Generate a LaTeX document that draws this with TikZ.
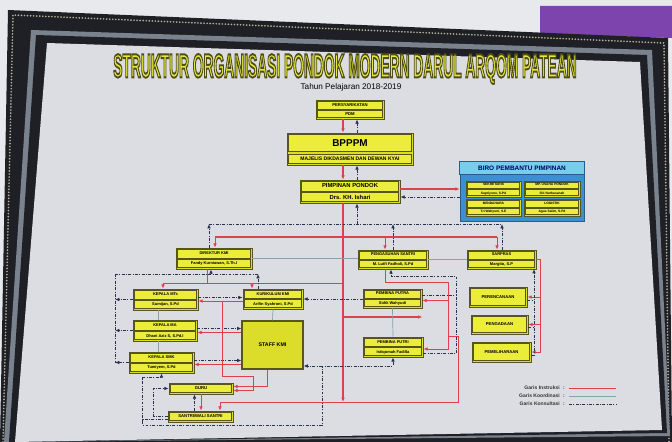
\documentclass[tikz,border=0pt]{standalone}
\usepackage{fontspec}
\setmainfont{Liberation Sans}
\usepackage{graphicx}
\usetikzlibrary{arrows.meta,fit,calc}

\definecolor{wall}{HTML}{E8E9ED}
\definecolor{cloth}{HTML}{7E44AE}
\definecolor{framedark}{HTML}{1E2026}
\definecolor{framegray}{HTML}{7A828E}
\definecolor{bead}{HTML}{B8B098}
\definecolor{paper}{HTML}{DCDDE3}
\definecolor{boxyel}{HTML}{DCDC2A}
\definecolor{rowyel}{HTML}{ECEC3A}
\definecolor{boxedge}{HTML}{56561C}
\definecolor{linered}{HTML}{E0404E}
\definecolor{linekoord}{HTML}{86A2AA}
\definecolor{linekons}{HTML}{2A3150}
\definecolor{biroblue}{HTML}{3E8ED2}
\definecolor{birolight}{HTML}{78CDEB}
\definecolor{biroedge}{HTML}{2A5C8A}
\definecolor{titleyel}{HTML}{E8E83A}

\begin{document}
\begin{tikzpicture}[x=0.3mm,y=-0.3mm,
    orgbox/.style={rectangle,draw=boxedge,fill=boxyel,line width=0.6pt,inner sep=0pt},
    rowbox/.style={draw=boxedge,fill=rowyel,line width=0.35pt},
    instr/.style={draw=linered,line width=0.8pt},
    instrthick/.style={draw=linered,line width=1.3pt},
    koord/.style={draw=linekoord,line width=0.6pt},
    kons/.style={draw=linekons,line width=0.7pt,dash pattern=on 2.5pt off 1.2pt on 0.8pt off 1.2pt},
    arrow/.style={-{Latex[length=1.3mm,width=1.1mm]}},
    legtext/.style={font=\fontsize{4.3}{5}\selectfont\bfseries,text=black!80,inner sep=0pt}
  ]
  % frame and wall
  \useasboundingbox (0,0) rectangle (672,442);
  \fill[wall] (0,0) rectangle (672,442);
  \fill[cloth] (540,6) -- (672,6) -- (672,38) -- (540,34) -- cycle;
  \fill[framedark] (8,10) -- (668,38) -- (672,442) -- (0,442) -- cycle;
  \draw[bead,line width=1.6pt,line cap=round,dash pattern=on 0pt off 2.6pt] (3,442) -- (13,15) -- (664,43) -- (669,442);
  \fill[framegray] (31,30) -- (652,50) -- (670,436) -- (4,442) -- cycle;
  \fill[framedark] (36,35) -- (647,55) -- (667,433) -- (9,442) -- cycle;
  \fill[paper] (47,43) -- (640,62) -- (662,430) -- (15,442) -- cycle;

  % title
  \node[inner sep=0pt] (title) at (345,69) {\resizebox{139mm}{7mm}{\color{titleyel}\special{pdf:literal direct 2 Tr 0.6 w 0.306 0.306 0.086 RG}\bfseries STRUKTUR ORGANISASI PONDOK MODERN DARUL ARQOM PATEAN\special{pdf:literal direct 0 Tr}}};
  \node[font=\fontsize{7}{8}\selectfont,inner sep=0pt] (tahun) at (351,87) {Tahun Pelajaran 2018-2019};

  % boxes
  \node[orgbox,fit={(316,100) (384,119)}] (tenaga) {};
  \node[orgbox,fit={(287,133) (413,165)}] (bpppm) {};
  \node[orgbox,fit={(300,180) (400,203)}] (pimpinan) {};
  \node[rectangle,draw=biroedge,fill=biroblue,line width=0.6pt,inner sep=0pt,fit={(460,162) (584,221)}] (biro) {};
  \node[orgbox,fit={(176,248) (252,269)}] (direktur) {};
  \node[orgbox,fit={(358,250) (428,269)}] (pengasuhan) {};
  \node[orgbox,fit={(467,250) (536,269)}] (sarpras) {};
  \node[orgbox,fit={(133,289) (198,310)}] (mts) {};
  \node[orgbox,fit={(243,289) (303,309)}] (kurikulum) {};
  \node[orgbox,fit={(133,320) (197,341)}] (ma) {};
  \node[orgbox,fit={(129,352) (194,373)}] (smk) {};
  \node[orgbox,line width=0.9pt,fit={(242,321) (303,369)}] (staff) {};
  \node[font=\fontsize{4.5}{5}\selectfont\bfseries] at (staff) {STAFF KMI};
  \node[orgbox,fit={(363,289) (422,308)}] (putra) {};
  \node[orgbox,fit={(363,337) (423,357)}] (putri) {};
  \node[orgbox,fit={(469,287) (527,307)}] (perencanaan) {};
  \node[orgbox,fit={(471,315) (528,334)}] (pengadaan) {};
  \node[orgbox,fit={(472,342) (531,362)}] (pemeliharaan) {};
  \node[orgbox,fit={(169,383) (233,394)}] (guru) {};
  \node[orgbox,fit={(168,411) (233,422)}] (santri) {};

  % biro pembantu pimpinan
  \draw[fill=birolight,draw=biroedge,line width=0.4pt] (biro.north west) rectangle ($(biro.north east)+(0,13)$);
  \node[font=\fontsize{5.5}{6}\selectfont\bfseries,text=blue!40!black,inner sep=0pt] at ($(biro.north)+(0,6.5)$) {BIRO PEMBANTU PIMPINAN};
  \node[orgbox,fit={(466,181) (521,197)}] (bsek) {};
  \node[orgbox,fit={(524,181) (580,197)}] (busaha) {};
  \node[orgbox,fit={(466,199) (521,216)}] (bbend) {};
  \node[orgbox,fit={(524,199) (580,216)}] (blog) {};

  % BPPPM rows
  \draw[rowbox] ($(bpppm.north west)+(2,2)$) rectangle ($(bpppm.north east)+(-2,19)$);
  \node[font=\fontsize{8.5}{9}\selectfont\bfseries,inner sep=0pt] at ($(bpppm.north)+(0,10.5)$) {BPPPM};
  \draw[rowbox] ($(bpppm.south west)+(2,-11)$) rectangle ($(bpppm.south east)+(-2,-2)$);
  \node[font=\fontsize{4.3}{5}\selectfont\bfseries,inner sep=0pt] at ($(bpppm.south)+(0,-6.5)$) {MAJELIS DIKDASMEN DAN DEWAN KYAI};

  % two-row boxes
  \foreach \n/\ra/\rb/\fs in {
      tenaga/{PERSYARIKATAN}/{PDM}/3.6,
      pimpinan/{PIMPINAN PONDOK}/{Drs. KH. Ishari}/5,
      direktur/{DIREKTUR KMI}/{Fandy Kurniawan, S.Th.I}/3.4,
      pengasuhan/{PENGASUHAN SANTRI}/{M. Lutfi Fadholi, S.Pd}/3.4,
      sarpras/{SARPRAS}/{Margito, S.P}/3.4,
      mts/{KEPALA MTs}/{Sumijan, S.Pd}/3.4,
      kurikulum/{KURIKULUM KMI}/{Arifin Syahroni, S.Pd}/3.4,
      ma/{KEPALA MA}/{Dhani Aziz S, S.Pd.I}/3.4,
      smk/{KEPALA SMK}/{Tumiyem, S.Pd}/3.4,
      putra/{PEMBINA PUTRA}/{Sidik Wahyudi}/3.4,
      putri/{PEMBINA PUTRI}/{Istiqomah Fadilla}/3.4,
      bsek/{SEKRETARIS}/{Supriyono, S.Pd}/2.8,
      busaha/{MP. USAHA PONDOK}/{Siti Nurhasanah}/2.8,
      bbend/{BENDAHARA}/{Tri Wahyuni, S.E}/2.8,
      blog/{LOGISTIK}/{Agus Salim, S.Pd}/2.8} {
    \draw[rowbox] ($(\n.north west)+(1.8,1.8)$) rectangle ($(\n.east)+(-1.8,-0.6)$);
    \draw[rowbox] ($(\n.west)+(1.8,0.6)$) rectangle ($(\n.south east)+(-1.8,-1.8)$);
    \node[font=\fontsize{\fs}{\fs}\selectfont\bfseries,inner sep=0pt] at ($(\n.north)!0.5!(\n.center)$) {\ra};
    \node[font=\fontsize{\fs}{\fs}\selectfont\bfseries,inner sep=0pt] at ($(\n.south)!0.5!(\n.center)$) {\rb};
  }

  % one-row boxes
  \foreach \n/\ra in {perencanaan/PERENCANAAN, pengadaan/PENGADAAN, pemeliharaan/PEMELIHARAAN,
      guru/GURU, santri/{SANTRI/WALI SANTRI}} {
    \draw[rowbox] ($(\n.north west)+(1.8,1.8)$) rectangle ($(\n.south east)+(-1.8,-1.8)$);
    \node[font=\fontsize{3.6}{4}\selectfont\bfseries,inner sep=0pt] at (\n) {\ra};
  }

  % coordinates of the buses
  \coordinate (rbl) at (215,237);
  \coordinate (rbm) at (385,237);
  \coordinate (rbr) at (497,237);
  \coordinate (kb) at (357,224);
  \coordinate (kbl) at (209,224);
  \coordinate (kbm) at (393,224);
  \coordinate (kbr) at (502,224);
  \coordinate (rbot) at (343,402);
  \coordinate (kr) at (207,283);
  \coordinate (krl) at (163,283);
  \coordinate (krk) at (252,283);
  \coordinate (krt) at (343,283);
  \coordinate (kk) at (211,274);
  \coordinate (kkl) at (115,274);
  \coordinate (kkr) at (258,274);
  \coordinate (rk) at (222,301);
  \coordinate (rp) at (343,317);
  \coordinate (prx) at (448,282);
  \coordinate (psb) at (458,402);
  \coordinate (pkx) at (456,276);
  \coordinate (kc) at (322,366);
  \coordinate (kcb) at (322,425);
  \coordinate (sx) at (540,259.5);
  \coordinate (skx) at (534,269);

  % top
  \draw[instrthick,arrow] ([xshift=-2.1mm]tenaga.south) -- ([xshift=-2.1mm]bpppm.north);
  \draw[kons,arrow] ([xshift=2.1mm]bpppm.north) -- ([xshift=2.1mm]tenaga.south);
  \draw[instrthick,arrow] ([xshift=-2.1mm]bpppm.south) -- ([xshift=-2.1mm]pimpinan.north);
  \draw[kons,arrow] ([xshift=2.1mm]pimpinan.north) -- ([xshift=2.1mm]bpppm.south);
  \draw[instrthick,arrow] ([yshift=0.75mm]pimpinan.east) -- ([yshift=0.75mm]biro.west);
  \draw[kons,arrow] ([yshift=-1.65mm]biro.west) -- ([yshift=-1.65mm]pimpinan.east);

  % pimpinan to second level
  \draw[instrthick,arrow] ([xshift=-2.1mm]pimpinan.south) -- (rbot);
  \draw[instrthick] (rbl) -- (rbr);
  \draw[instr,arrow] (rbl) -- (rbl |- direktur.north);
  \draw[instr,arrow] (rbm) -- (rbm |- pengasuhan.north);
  \draw[instr,arrow] (rbr) -- (rbr |- sarpras.north);
  \draw[kons] (kbl) -- (kbr);
  \draw[kons,arrow] (kbl |- direktur.north) -- (kbl);
  \draw[kons,arrow] (kbm |- pengasuhan.north) -- (kbm);
  \draw[kons,arrow] (kbr |- sarpras.north) -- (kbr);
  \draw[kons,arrow] (kb) -- (kb |- pimpinan.south);
  \draw[koord] (direktur.east) -- (direktur.east -| pengasuhan.west);
  \draw[koord] (pengasuhan.east) -- (pengasuhan.east -| sarpras.west);

  % KMI
  \draw[instr] (direktur.south -| kr) -- (kr);
  \draw[instr] (krl) -- (krt);
  \draw[instr,arrow] (krl) -- (krl |- mts.north);
  \draw[instr,arrow] (krk) -- (krk |- kurikulum.north);
  \draw[kons] (kkl) -- (kkr);
  \draw[kons,arrow] (kk) -- (kk |- direktur.south);
  \draw[kons,arrow] (kkr |- kurikulum.north) -- (kkr);
  \draw[kons] (kkl) -- (kkl |- smk.west);
  \draw[kons,arrow] (mts.west) -- (mts.west -| kkl);
  \draw[kons,arrow] (ma.west) -- (ma.west -| kkl);
  \draw[kons,arrow] (smk.west) -- (smk.west -| kkl);
  \draw[koord] ([xshift=-2mm]mts.south) -- ([xshift=-2mm]mts.south |- ma.north);
  \draw[koord] ([xshift=-2mm]ma.south) -- ([xshift=-2mm]ma.south |- smk.north);
  \draw[instr,arrow] ([yshift=-0.6mm]kurikulum.west) -- ([yshift=-0.6mm]kurikulum.west -| mts.east);
  \draw[kons,arrow] ([yshift=0.6mm]mts.east) -- ([yshift=0.6mm]mts.east -| kurikulum.west);
  \draw[instr,arrow] ([yshift=-0.6mm]staff.west |- ma.east) -- ([yshift=-0.6mm]ma.east);
  \draw[kons,arrow] ([yshift=0.6mm]ma.east) -- ([yshift=0.6mm]staff.west |- ma.east);
  \draw[instr,arrow] ([yshift=-0.6mm]staff.west |- smk.east) -- ([yshift=-0.6mm]smk.east);
  \draw[kons,arrow] ([yshift=0.6mm]smk.east) -- ([yshift=0.6mm]staff.west |- smk.east);
  \draw[koord] (kurikulum.south) -- (staff.north);
  \draw[instr,arrow] (rk) |- ++(31,75) |- ([yshift=-0.6mm]guru.east);
  \draw[instr,arrow] ([xshift=-1.5mm]staff.south) |- ([yshift=0.6mm]guru.east);

  % guru and santri
  \draw[instr,arrow] (guru.south) -- (guru.south |- santri.north);
  \draw[kons,arrow] ([xshift=-1.8mm]santri.north) -- ([xshift=-1.8mm]santri.north |- guru.south);
  \draw[kons,arrow] (santri.west) -- ++(-14,0) |- (guru.west);
  \draw[kons,arrow] ([yshift=-0.9mm]santri.west) -- ++(-25,0) -- ++(0,-42) -| (smk.south);
  \draw[kons,arrow] ([yshift=-0.9mm]santri.west) -- ++(-25,0) |- (kcb) -- (kc) -| (putri.south);
  \draw[kons,arrow] (kc) -- (kc -| staff.east);

  % pengasuhan
  \draw[kons,arrow] (putra.west |- kurikulum.east) -- (kurikulum.east);
  \draw[instrthick,arrow] (rp) -- (rp -| putra.east);
  \draw[koord] (putra.south) -- (putri.north);
  \draw[instr,arrow] ([xshift=-2.4mm]pengasuhan.south) |- (prx) |- ([yshift=-0.6mm]putri.east);
  \draw[instr,arrow] ([yshift=-0.6mm]putra.east -| prx) -- ([yshift=-0.6mm]putra.east);
  \draw[instr,arrow] (prx |- putri.north) -| (psb) -| ([xshift=5.85mm]santri.north);
  \draw[kons,arrow] ([yshift=-2mm]putri.east) -| (pkx) -| ([xshift=-0.6mm]pengasuhan.south);
  \draw[kons] ([yshift=1mm]putra.east) -- ([yshift=1mm]putra.east -| pkx);

  % sarpras
  \draw[instr,arrow] (sarpras.east) -- (sx) |- (pemeliharaan.east);
  \draw[instr,arrow] (sx |- perencanaan.east) -- (perencanaan.east);
  \draw[instr,arrow] (sx |- pengadaan.east) -- (pengadaan.east);
  \draw[kons,arrow] ([yshift=-0.9mm]pemeliharaan.east) -| (skx);
  \draw[kons] ([yshift=-0.9mm]perencanaan.east) -- ([yshift=-0.9mm]perencanaan.east -| skx);
  \draw[kons] ([yshift=-0.9mm]pengadaan.east) -- ([yshift=-0.9mm]pengadaan.east -| skx);

  % legend
  \node[legtext,anchor=east] (lgins) at (560,388) {Garis Instruksi};
  \node[legtext,anchor=east] (lgkoo) at (560,396) {Garis Koordinasi};
  \node[legtext,anchor=east] (lgkon) at (560,404) {Garis Konsultasi};
  \node[legtext] (lgc1) at (564,388) {:};
  \node[legtext] (lgc2) at (564,396) {:};
  \node[legtext] (lgc3) at (564,404) {:};
  \draw[instr] ([xshift=1.2mm]lgc1.east) -- ++(47,0);
  \draw[koord] ([xshift=1.2mm]lgc2.east) -- ++(47,0);
  \draw[kons] ([xshift=1.2mm]lgc3.east) -- ++(47,0);
\end{tikzpicture}
\end{document}
